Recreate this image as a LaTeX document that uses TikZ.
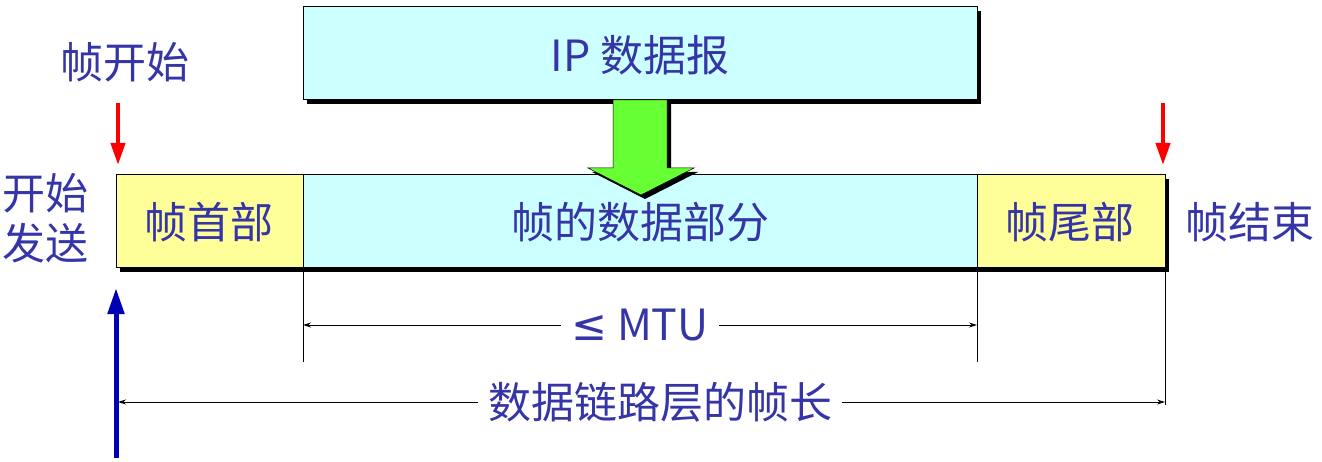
\documentclass[tikz,border=0pt]{standalone}
\usepackage{fontspec}
\setmainfont{Noto Sans CJK SC}
\newfontfamily\djv{DejaVu Sans}
\usetikzlibrary{arrows.meta}
\definecolor{txt}{HTML}{3535A8}
\definecolor{cy}{HTML}{CCFFFF}
\definecolor{yl}{HTML}{FFFF99}
\definecolor{gr}{HTML}{66FF33}
\begin{document}
\begin{tikzpicture}[x=1pt,y=-1pt,
  lbl/.style={text=txt,font=\fontsize{43}{48}\selectfont,inner sep=0pt},
  box/.style={draw=black,line width=1pt},
  shd/.style={fill=black},
  dim/.style={line width=0.8pt,{Stealth[length=8pt,width=5pt]}-}]
\useasboundingbox (0,0) rectangle (1322,462);
% shadows
\fill[shd] (307,11) rectangle (981,104);
\fill[shd] (120,179) rectangle (1169,272);
% IP box
\draw[box,fill=cy] (303,7) rectangle (977,100);
\node[lbl] (ip) at (640,55) {IP 数据报};
% frame
\draw[box,fill=yl] (116,175) rectangle (303,268);
\draw[box,fill=cy] (303,175) rectangle (977,268);
\draw[box,fill=yl] (977,175) rectangle (1165,268);
\node[lbl] (hd) at (209,222) {帧首部};
\node[lbl] (dt) at (640,222) {帧的数据部分};
\node[lbl] (tl) at (1070,222) {帧尾部};
% green arrow
\fill[black] (617,104)--(671,104)--(671,172)--(698,172)--(645,199)--(592,172)--(617,172)--cycle;
\draw[fill=gr,line width=0.5pt] (613,100)--(667,100)--(667,168)--(694,168)--(641,195)--(588,168)--(613,168)--cycle;
% labels
\node[lbl] (fs) at (125,62) {帧开始};
\node[lbl,align=center,font=\fontsize{43}{50}\selectfont] (ks) at (45,218) {开始\\发送};
\node[lbl] (fe) at (1250,222) {帧结束};
% red arrows
\coordinate (r1a) at (118,103); \coordinate (r1b) at (118,165);
\coordinate (r2a) at (1163,103); \coordinate (r2b) at (1163,165);
\draw[red,line width=4pt,-{Triangle[length=22pt,width=14pt]}] (r1a)--(r1b);
\draw[red,line width=4pt,-{Triangle[length=22pt,width=14pt]}] (r2a)--(r2b);
% MTU dimension
\draw[line width=0.8pt] (303,272)--(303,362);
\draw[line width=0.8pt] (977,272)--(977,362);
\node[lbl,fill=white,inner xsep=10pt] (mtu) at (640,325) {{\djv ≤} MTU};
\coordinate (m1) at (303,325); \coordinate (m2) at (977,325);
\draw[dim] (m1)--(mtu.west); \draw[dim] (m2)--(mtu.east);
% frame length
\draw[line width=0.8pt] (1165,272)--(1165,405);
\node[lbl,fill=white,inner xsep=10pt] (fl) at (660,402) {数据链路层的帧长};
\coordinate (f1) at (118,402); \coordinate (f2) at (1165,402);
\draw[dim] (f1)--(fl.west); \draw[dim] (f2)--(fl.east);
% blue arrow
\coordinate (b1) at (116,458); \coordinate (b2) at (116,288);
\draw[blue!70!black,line width=5pt,-{Triangle[length=26pt,width=16pt]}] (b1)--(b2);
\end{tikzpicture}
\end{document}
